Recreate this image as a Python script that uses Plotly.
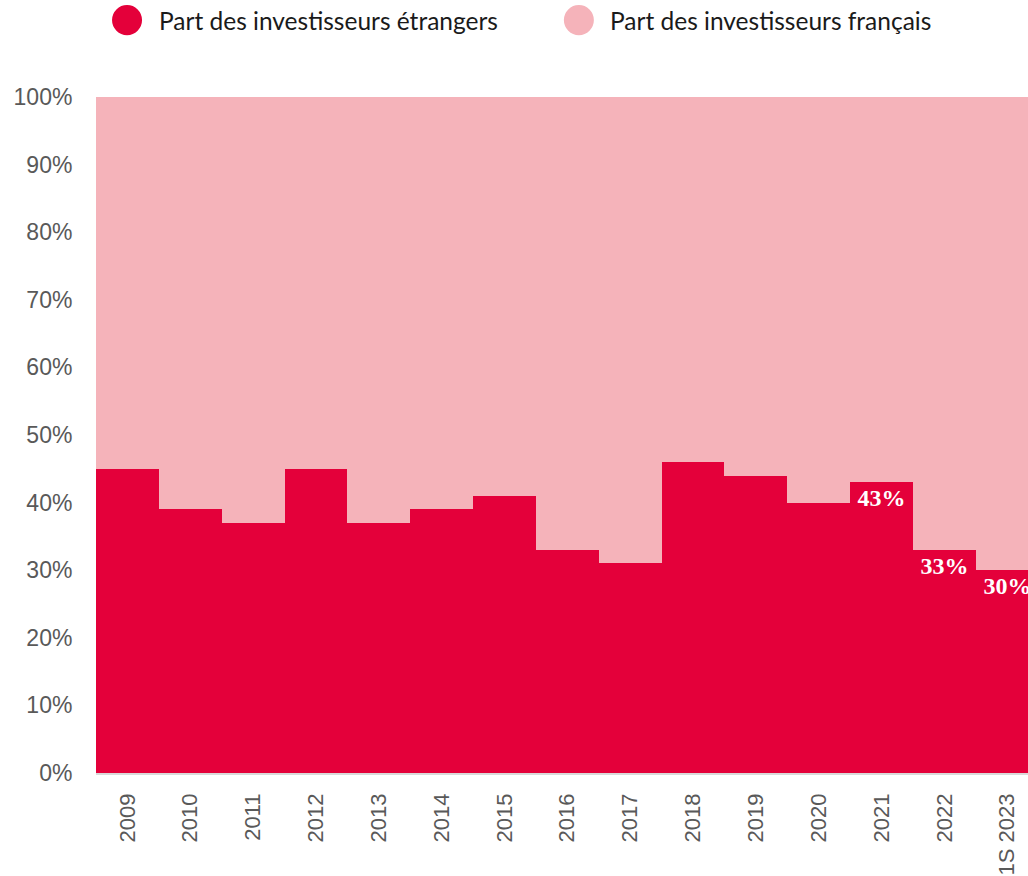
'''Part des investisseurs étrangers vs français, barres empilées 100%'''

#%% Imports

import plotly.graph_objects as go


#%% Data

years = ['2009', '2010', '2011', '2012', '2013', '2014', '2015', '2016',
         '2017', '2018', '2019', '2020', '2021', '2022', '1S 2023']
foreign_share = [45, 39, 37, 45, 37, 39, 41, 33, 31, 46, 44, 40, 43, 33, 30]
french_share = [100 - v for v in foreign_share]
labelled_years = ['2021', '2022', '1S 2023']

y_ticks = [0, 10, 20, 30, 40, 50, 60, 70, 80, 90, 100]
y_tick_labels = [f'{t}%' for t in y_ticks]

RED = '#E4003A'
PINK = '#F5B3BA'


#%% Figure

bar_text = [f'{v}%' if yr in labelled_years else '' for yr, v in zip(years, foreign_share)]

fig = go.Figure()

fig.add_trace(go.Bar(x=years,
                     y=foreign_share,
                     name='Part des investisseurs étrangers',
                     marker=dict(color=RED, line=dict(width=0)),
                     text=bar_text,
                     textposition='inside',
                     insidetextanchor='end',
                     textangle=0,
                     textfont=dict(family='Liberation Serif', size=24,
                                   color='white', weight='bold'),
                     showlegend=False))

fig.add_trace(go.Bar(x=years,
                     y=french_share,
                     name='Part des investisseurs français',
                     marker=dict(color=PINK, line=dict(width=0)),
                     showlegend=False))

# legend drawn by hand (big round markers)
legend_items = [('Part des investisseurs étrangers', RED, 0.0172, 0.0655),
                ('Part des investisseurs français', PINK, 0.502, 0.549)]
for label, color, cx, tx in legend_items:
    fig.add_shape(type='circle', xref='paper', yref='paper',
                  x0=cx, x1=cx + 0.0322, y0=1.0915, y1=1.136,
                  fillcolor=color, line=dict(width=0))
    fig.add_annotation(x=tx, y=1.113, xref='paper', yref='paper',
                       xanchor='left', yanchor='middle',
                       text=label, showarrow=False,
                       font=dict(family='Lato', size=24.5, color='#1a1a1a'))

fig.update_layout(barmode='stack',
                  bargap=0,
                  autosize=False,
                  width=1028,
                  height=876,
                  margin=dict(l=96, r=0, t=97, b=103),
                  plot_bgcolor='white',
                  paper_bgcolor='white',
                  font=dict(family='Liberation Sans', size=22, color='#595959'))

fig.update_xaxes(type='category',
                 range=[-0.5, 14.33],
                 tickangle=-90,
                 ticks='outside',
                 ticklen=10,
                 tickcolor='rgba(0,0,0,0)',
                 showline=True,
                 linecolor='#d9d9d9',
                 linewidth=1.5,
                 showgrid=False,
                 tickfont=dict(family='Liberation Sans', size=22, color='#595959'))

fig.update_yaxes(range=[0, 100],
                 tickvals=y_ticks,
                 ticktext=y_tick_labels,
                 ticks='outside',
                 ticklen=18,
                 tickcolor='rgba(0,0,0,0)',
                 showgrid=False,
                 zeroline=False,
                 showline=False,
                 tickfont=dict(family='Liberation Sans', size=23, color='#595959'))

# drop the default 8px body margin so the figure fills the window
fig.write_html('out.html',
               config={'displayModeBar': False},
               post_script="document.body.style.margin='0';document.body.style.overflow='hidden';")
